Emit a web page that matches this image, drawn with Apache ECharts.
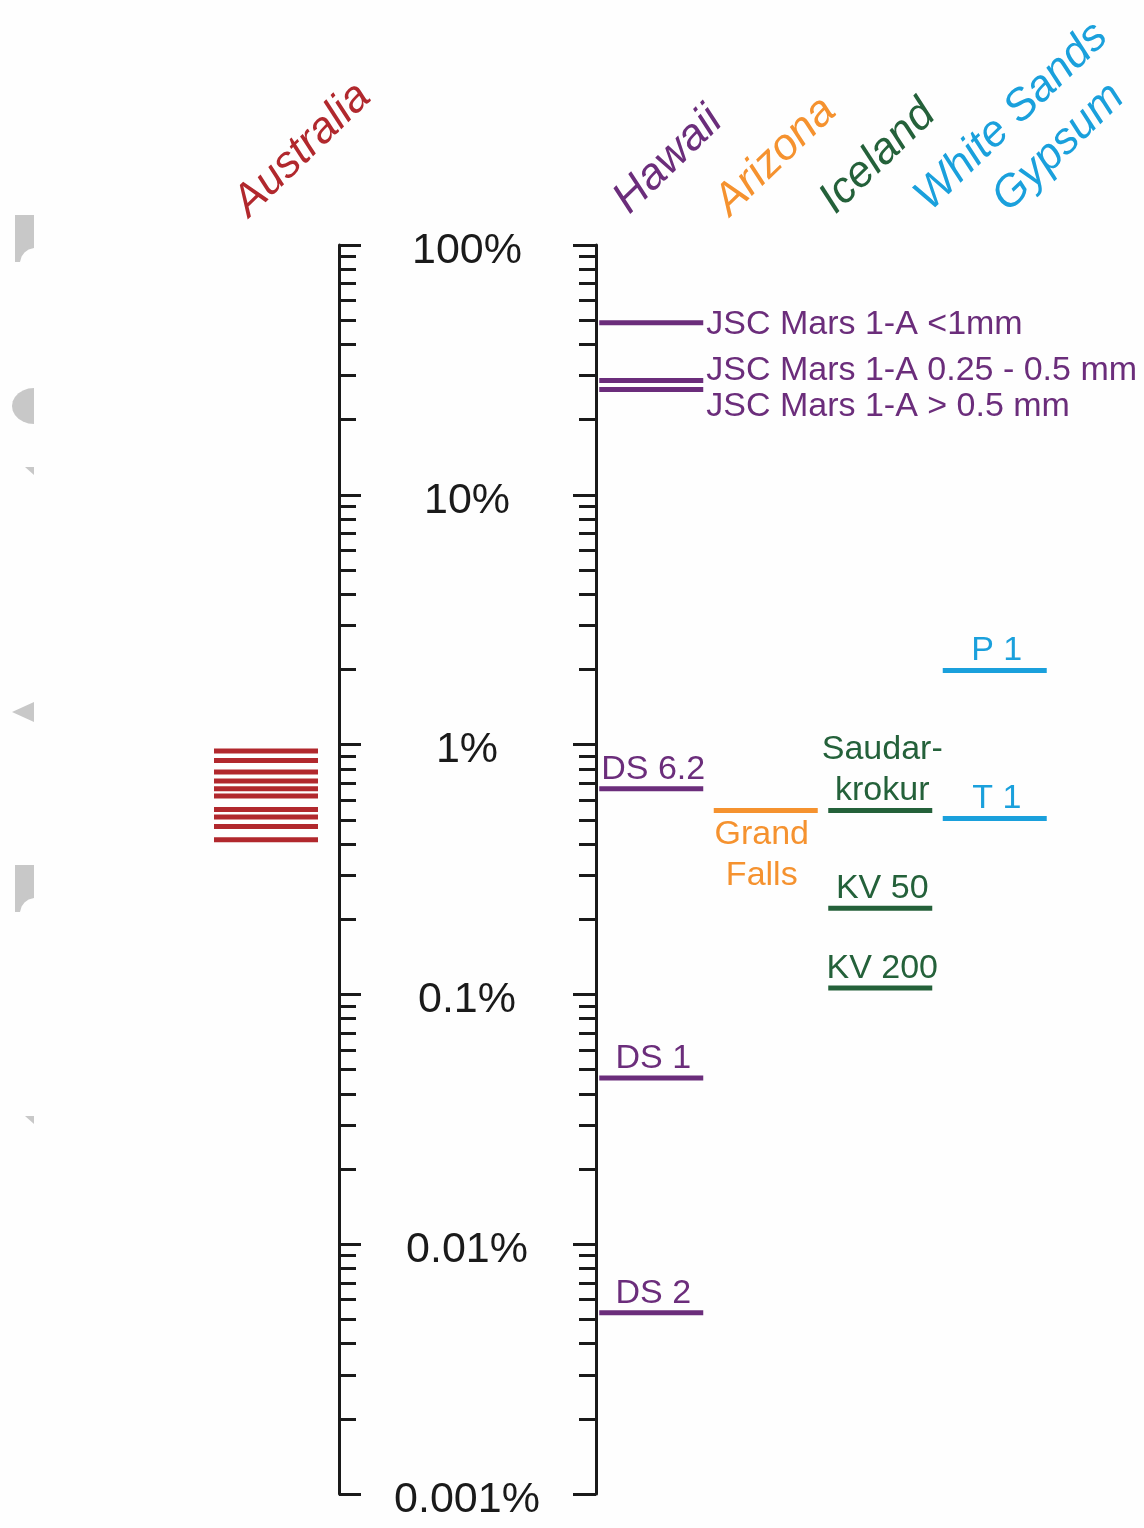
<!DOCTYPE html>
<html><head><meta charset="utf-8">
<script src="https://cdn.jsdelivr.net/npm/echarts@6/dist/echarts.min.js"></script>
<style>html,body{margin:0;padding:0;background:#fefefe}#c{width:1144px;height:1528px}</style>
</head><body><div id="c"></div>
<script>
// ---------- DATA ----------
const columns = ['Australia', 'Hawaii', 'Arizona', 'Iceland', 'White Sands\nGypsum'];
const tickValues = [0.001, 0.01, 0.1, 1, 10, 100];
const tickLabels = ['0.001%', '0.01%', '0.1%', '1%', '10%', '100%'];
const minorMultipliers = [2, 3, 4, 5, 6, 7, 8, 9];

const australiaValues = [0.943, 0.864, 0.777, 0.715, 0.666, 0.622, 0.550, 0.513, 0.470, 0.416];

const hawaiiNames = ['JSC Mars 1-A <1mm', 'JSC Mars 1-A 0.25 - 0.5 mm', 'JSC Mars 1-A > 0.5 mm', 'DS 6.2', 'DS 1', 'DS 2'];
const hawaiiValues = [48.8, 28.7, 26.4, 0.666, 0.0463, 0.00531];

const arizonaNames = ['Grand\nFalls'];
const arizonaValues = [0.545];

const icelandNames = ['Saudar-\nkrokur', 'KV 50', 'KV 200'];
const icelandValues = [0.545, 0.221, 0.106];

const whiteSandsNames = ['P 1', 'T 1'];
const whiteSandsValues = [1.98, 0.506];

// ---------- STYLE ----------
const colors = ['#B1282D', '#6B2D7B', '#F5922F', '#24613A', '#1AA0DC'];
const FONT = "'Liberation Sans', Arial, sans-serif";
const AXIS_COLOR = '#1a1a1a';
const SEG_W = 104;
const labelPlacement = {
  'JSC Mars 1-A <1mm': { pos: 'right', dy: 2 },
  'JSC Mars 1-A 0.25 - 0.5 mm': { pos: 'right', dy: -10 },
  'JSC Mars 1-A > 0.5 mm': { pos: 'right', dy: 17 },
  'Grand\nFalls': { pos: 'bottom', dy: 0, dx: -4 }
};
const headerAnchors = [[256, 225], [636, 222], [737, 224], [842, 222], [937, 219], [1015, 220]];
const HEADER_ROT = 44 * Math.PI / 180;

const minorTicks = [];
tickValues.slice(0, -1).forEach(d => minorMultipliers.forEach(m => minorTicks.push(+(d * m).toPrecision(3))));

function fmtTick(v) {
  let best = 0, bd = Infinity;
  tickValues.forEach((t, i) => { const d = Math.abs(Math.log10(t) - Math.log10(v)); if (d < bd) { bd = d; best = i; } });
  return tickLabels[best];
}

function segSeries(xIdx, yIdx, cat, values, names, color) {
  return {
    type: 'custom',
    coordinateSystem: 'cartesian2d',
    xAxisIndex: xIdx, yAxisIndex: yIdx,
    clip: false,
    data: values.map(v => [cat, v]),
    renderItem: function (params, api) {
      const p = api.coord([api.value(0), api.value(1)]);
      const children = [{
        type: 'line',
        shape: { x1: p[0] - SEG_W / 2, y1: p[1], x2: p[0] + SEG_W / 2, y2: p[1] },
        style: { stroke: color, lineWidth: 5 }
      }];
      const name = names ? names[params.dataIndex] : '';
      if (name) {
        const pl = labelPlacement[name] || { pos: 'top', dy: 0 };
        const st = { text: name, fill: color, font: '34px ' + FONT, lineHeight: 41 };
        let x, y;
        if (pl.pos === 'right') {
          x = p[0] + SEG_W / 2 + 3; y = p[1] + pl.dy;
          st.align = 'left'; st.verticalAlign = 'middle';
        } else if (pl.pos === 'bottom') {
          x = p[0] + (pl.dx || 0); y = p[1] + 4;
          st.align = 'center'; st.verticalAlign = 'top';
        } else {
          x = p[0] + 2; y = p[1] + 1;
          st.align = 'center'; st.verticalAlign = 'bottom';
        }
        children.push({ type: 'text', x: x, y: y, style: st });
      }
      return { type: 'group', children: children };
    }
  };
}

const logBase = { type: 'log', logBase: 10, min: 0.001, max: 100, splitLine: { show: false } };

const yAxes = [
  Object.assign({}, logBase, {
    gridIndex: 0, position: 'left',
    axisLine: { show: true, lineStyle: { color: AXIS_COLOR, width: 3 } },
    axisTick: { show: true, inside: true, length: 22, customValues: tickValues, lineStyle: { color: AXIS_COLOR, width: 3 } },
    axisLabel: {
      show: true, inside: true, margin: 128, align: 'center', verticalAlign: 'top', lineHeight: 12,
      customValues: tickValues, formatter: fmtTick, color: AXIS_COLOR, fontSize: 43, fontFamily: FONT
    }
  }),
  Object.assign({}, logBase, {
    gridIndex: 0, position: 'left',
    axisLine: { show: false },
    axisTick: { show: true, inside: true, length: 17, customValues: minorTicks, lineStyle: { color: AXIS_COLOR, width: 3 } },
    axisLabel: { show: false }
  }),
  Object.assign({}, logBase, {
    gridIndex: 0, position: 'right',
    axisLine: { show: true, lineStyle: { color: AXIS_COLOR, width: 3 } },
    axisTick: { show: true, inside: true, length: 23, customValues: tickValues, lineStyle: { color: AXIS_COLOR, width: 3 } },
    axisLabel: { show: false }
  }),
  Object.assign({}, logBase, {
    gridIndex: 0, position: 'right',
    axisLine: { show: false },
    axisTick: { show: true, inside: true, length: 17, customValues: minorTicks, lineStyle: { color: AXIS_COLOR, width: 3 } },
    axisLabel: { show: false }
  }),
  Object.assign({}, logBase, { gridIndex: 1, show: false }),
  Object.assign({}, logBase, { gridIndex: 2, show: false })
];

// header texts (rotated)
const headerParts = [];
columns.forEach((c, i) => c.split('\n').forEach(part => headerParts.push({ text: part, color: colors[i] })));
const graphics = headerParts.map((h, i) => ({
  type: 'text', x: headerAnchors[i][0], y: headerAnchors[i][1], rotation: HEADER_ROT,
  style: { text: h.text, fill: h.color, font: 'italic 44px ' + FONT, align: 'left', verticalAlign: 'bottom' }
}));

// faint clipped glyph fragments at the left edge (decoration)
const GREY = '#c8c8c8';
function notchBlock(top) {
  return [[15, top], [34, top], [34, top + 33], [28.6, top + 34.6], [24.5, top + 37.5], [21.6, top + 41.6], [20, top + 47], [15, top + 47]];
}
const halfOval = [];
for (let a = 90; a <= 270; a += 15) {
  const r = a * Math.PI / 180;
  halfOval.push([34 + 22 * Math.cos(r), 406 - 18 * Math.sin(r)]);
}
[
  notchBlock(215),
  halfOval,
  [[25, 467], [34, 467], [34, 475]],
  [[12, 712], [34, 702], [34, 722]],
  notchBlock(865),
  [[25, 1116], [34, 1116], [34, 1124]]
].forEach(pts => graphics.push({ type: 'polygon', shape: { points: pts }, style: { fill: GREY } }));

const option = {
  backgroundColor: '#fefefe',
  animation: false,
  grid: [
    { left: 339, top: 245, width: 257, height: 1249 },
    { left: 214, top: 245, width: 104, height: 1249 },
    { left: 594, top: 245, width: 458, height: 1249 }
  ],
  xAxis: [
    { gridIndex: 0, type: 'value', show: false },
    { gridIndex: 1, type: 'category', data: [columns[0]], show: false },
    { gridIndex: 2, type: 'category', data: columns.slice(1), show: false }
  ],
  yAxis: yAxes,
  series: [
    segSeries(1, 4, 0, australiaValues, null, colors[0]),
    segSeries(2, 5, 0, hawaiiValues, hawaiiNames, colors[1]),
    segSeries(2, 5, 1, arizonaValues, arizonaNames, colors[2]),
    segSeries(2, 5, 2, icelandValues, icelandNames, colors[3]),
    segSeries(2, 5, 3, whiteSandsValues, whiteSandsNames, colors[4])
  ],
  graphic: graphics
};
const chart = echarts.init(document.getElementById('c'), null, { renderer: 'canvas' });
chart.setOption(option);
</script></body></html>
